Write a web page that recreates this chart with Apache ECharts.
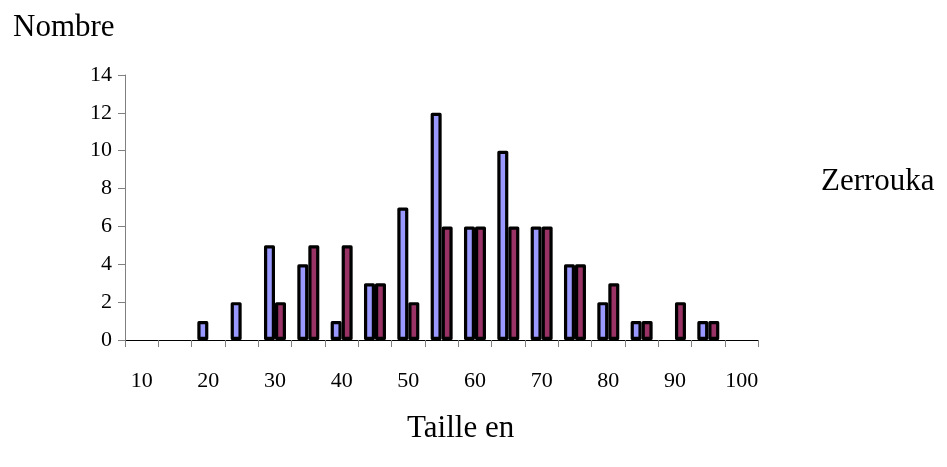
<!DOCTYPE html>
<html>
<head>
<meta charset="utf-8">
<script src="https://cdn.jsdelivr.net/npm/echarts@6/dist/echarts.min.js"></script>
<style>html,body{margin:0;padding:0;background:#fff}#c{width:947px;height:467px}</style>
</head>
<body>
<div id="c"></div>
<script>
var categories = ['10','15','20','25','30','35','40','45','50','55','60','65','70','75','80','85','90','95','100'];
var zerrouka = [0,0,1,2,5,4,1,3,7,12,6,10,6,4,2,1,0,1,0];
var serie2   = [0,0,0,0,2,5,5,3,2,6,6,6,6,4,3,1,2,1,0];
var yTicks = {min:0, max:14, interval:2};

function nz(a){return a.map(function(v){return v===0?null:v;});}
var FONT = '"Liberation Serif", "Times New Roman", serif';
var chart = echarts.init(document.getElementById('c'), null, {renderer:'canvas'});
chart.setOption({
  animation:false,
  backgroundColor:'#fff',
  title:{text:'Nombre', left:13, top:13, padding:0,
    textStyle:{fontFamily:FONT, fontSize:31, fontWeight:'normal', color:'#000', lineHeight:30}},
  legend:{data:['Zerrouka'], left:816, top:166, padding:0, icon:'none', itemWidth:0, itemGap:0,
    textStyle:{fontFamily:FONT, fontSize:31, color:'#000', lineHeight:30}},
  grid:{left:125, right:188.7, top:75, bottom:127, containLabel:false, outerBoundsMode:'none'},
  xAxis:{type:'category', data:categories, boundaryGap:true,
    name:'Taille en', nameLocation:'middle', nameGap:74,
    nameTextStyle:{fontFamily:FONT, fontSize:31, color:'#000', padding:[0,0,0,38], lineHeight:30},
    axisLine:{lineStyle:{color:'#000', width:1}},
    axisTick:{show:true, interval:0, length:7, inside:false, lineStyle:{color:'#808080', width:1}},
    axisLabel:{interval:1, margin:30, fontFamily:FONT, fontSize:22, color:'#000'},
    splitLine:{show:false}},
  yAxis:{type:'value', min:yTicks.min, max:yTicks.max, interval:yTicks.interval,
    axisLine:{show:true, lineStyle:{color:'#808080', width:1}},
    axisTick:{show:true, length:7, lineStyle:{color:'#808080', width:1}},
    axisLabel:{margin:13, fontFamily:FONT, fontSize:22, color:'#000'},
    splitLine:{show:false}},
  series:[
    {name:'Zerrouka', type:'bar', data:nz(zerrouka), barWidth:11, barGap:'0%',
      itemStyle:{color:'#9999FF', borderColor:'#000', borderWidth:3.2, borderJoin:'round'}},
    {name:'Série 2', type:'bar', data:nz(serie2), barWidth:11, barGap:'0%',
      itemStyle:{color:'#993366', borderColor:'#000', borderWidth:3.2, borderJoin:'round'}}
  ]
});
</script>
</body>
</html>
